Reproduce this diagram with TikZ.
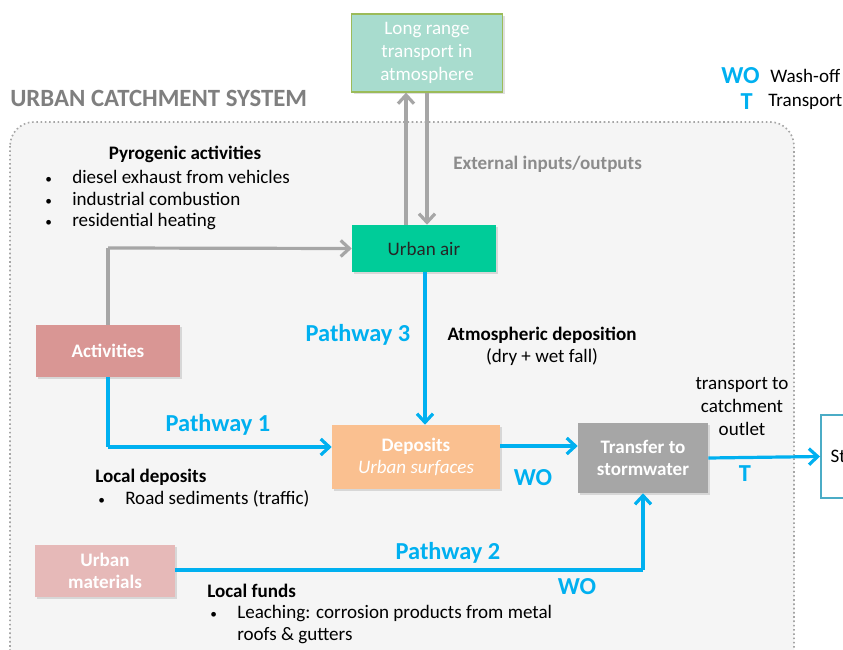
\documentclass[tikz,border=0pt]{standalone}
\usepackage{fontspec}
\setmainfont{Carlito}
\usetikzlibrary{arrows.meta,shadows,calc}
\definecolor{cblue}{HTML}{00B0F0}
\definecolor{cgrayarrow}{HTML}{A6A6A6}
\definecolor{ctitle}{HTML}{7F7F7F}
\definecolor{cbg}{HTML}{F5F5F5}
\definecolor{clong}{HTML}{A8DCCE}
\definecolor{clongb}{HTML}{9BBB59}
\definecolor{cair}{HTML}{00CC99}
\definecolor{cact}{HTML}{D99694}
\definecolor{cdep}{HTML}{FAC090}
\definecolor{ctrans}{HTML}{A6A6A6}
\definecolor{cmat}{HTML}{E6B9B8}
\definecolor{cstorm}{HTML}{4BACC6}
\newcommand{\mybul}{\makebox[20.25pt][l]{\fontsize{10}{10}\selectfont\textbullet}}
\tikzset{
  box/.style={draw=none, inner sep=2pt, align=center, text=white, font=\fontsize{14.3}{16.5}\selectfont\bfseries,
    drop shadow={shadow xshift=1.5pt, shadow yshift=-1.5pt, opacity=0.25}},
  bluearrow/.style={draw=cblue, line width=2.4pt, -{Straight Barb[length=6.5pt,width=12pt,line width=2.4pt]}},
  blueline/.style={draw=cblue, line width=2.4pt},
  grayarrow/.style={draw=cgrayarrow, line width=2.4pt, -{Straight Barb[length=6.5pt,width=12pt,line width=2.4pt]}},
  graylinestyle/.style={draw=cgrayarrow, line width=2.4pt},
  pathlabel/.style={text=cblue, font=\fontsize{18.3}{21}\selectfont\bfseries, inner sep=0pt},
  body/.style={text=black, font=\fontsize{14.3}{17.25}\selectfont, inner sep=0pt, align=left},
  bodybold/.style={text=black, font=\fontsize{14.3}{17.25}\selectfont\bfseries, inner sep=0pt}
}
\begin{document}
\begin{tikzpicture}[x=0.75pt,y=-0.75pt]
\useasboundingbox (0,0) rectangle (843,650);
\clip (0,0) rectangle (843,650);
\fill[white] (0,0) rectangle (843,650);
% catchment area
\draw[draw=gray!70, fill=cbg, line width=1.2pt, dotted, rounded corners=18pt] (10,122) rectangle (794,700);
\node[text=ctitle, font=\fontsize{18.6}{22}\selectfont\bfseries, anchor=west, inner sep=0pt] (title) at (10,98) {URBAN CATCHMENT SYSTEM};
% legend
\node[pathlabel, anchor=east] (lwo) at (760,76) {WO};
\node[body, anchor=west] (lwot) at (770,76) {Wash-off};
\node[pathlabel, anchor=east] (lt) at (753,102) {T};
\node[body, anchor=west] (ltt) at (768,102) {Transport};
% nodes
\node[box, fill=clong, draw=clongb, line width=1pt, font=\fontsize{14.3}{17.25}\selectfont, minimum width=151*0.75pt, minimum height=78*0.75pt] (long) at (427,53) {Long range\\transport in\\atmosphere};
\node[box, fill=cair, text=black!85, font=\fontsize{14.3}{16}\selectfont, minimum width=144*0.75pt, minimum height=47*0.75pt] (air) at (424,248.5) {Urban air};
\node[box, fill=cact, minimum width=144*0.75pt, minimum height=52*0.75pt] (act) at (108,351) {Activities};
\node[box, fill=cdep, minimum width=168*0.75pt, minimum height=64*0.75pt] (dep) at (416,457) {Deposits\\\mdseries\itshape Urban surfaces};
\node[box, fill=ctrans, minimum width=130*0.75pt, minimum height=70*0.75pt] (trans) at (643,458) {Transfer to\\stormwater};
\node[box, fill=cmat, minimum width=140*0.75pt, minimum height=52*0.75pt] (mat) at (105,571) {Urban\\materials};
\node[draw=cstorm, fill=white, line width=1.5pt, text width=90*0.75pt, align=left, inner xsep=9.5*0.75pt, minimum height=83*0.75pt, anchor=west, font=\fontsize{14.3}{16}\selectfont, text=black] (storm) at (820,456.5) {Stormwater};
% gray connectors
\draw[grayarrow] ($(air.north)+(-18,0)$) -- ($(long.south)+(-21,0)$);
\draw[grayarrow] ($(long.south)+(0,0)$) -- ($(air.north)+(3,0)$);
\coordinate (actup) at (108,248);
\draw[graylinestyle] (act.north) -- (actup);
\draw[grayarrow] (actup) -- (air.west);
\node[text=ctitle!90, font=\fontsize{14.3}{16}\selectfont\bfseries, anchor=west, inner sep=0pt] (ext) at (453,164) {External inputs/outputs};
% blue connectors
\draw[bluearrow] ($(air.south)+(1,0)$) -- ($(dep.north)+(9,0)$);
\coordinate (p1c) at (108,447);
\draw[blueline] (act.south) -- (p1c);
\draw[bluearrow] (p1c) -- ($(dep.west)+(0,-10)$);
\draw[bluearrow] ($(dep.east)+(0,-11)$) -- ($(trans.west)+(0,-12)$);
\draw[bluearrow] (trans.east) -- (storm.west);
\coordinate (p2c) at (643,570);
\draw[blueline] (mat.east |- p2c) -- (p2c);
\draw[bluearrow] (p2c) -- (trans.south);
% labels
\node[pathlabel] (pw3) at (358,335) {Pathway 3};
\node[pathlabel] (pw1) at (218,425) {Pathway 1};
\node[pathlabel] (pw2) at (448,553) {Pathway 2};
\node[pathlabel] (wo1) at (533,478) {WO};
\node[pathlabel] (wo2) at (577,587) {WO};
\node[pathlabel] (t1) at (745,474) {T};
\node[bodybold] (atm) at (542,335) {Atmospheric deposition};
\node[body] (atm2) at (542,357) {(dry + wet fall)};
\node[body, align=center] (outlet) at (742,407) {transport to\\catchment\\outlet};
% pyrogenic text
\node[bodybold] (pyro) at (185,154) {Pyrogenic activities};
\node[body, anchor=west] (b1) at (45,177) {\mybul diesel exhaust from vehicles};
\node[body, anchor=west] (b2) at (45,199) {\mybul industrial combustion};
\node[body, anchor=west] (b3) at (45,222) {\mybul residential heating};
% local deposits
\node[bodybold, anchor=west] (ld) at (95,477) {Local deposits};
\node[body, anchor=west] (ld1) at (98,499) {\mybul Road sediments (traffic)};
% local funds
\node[bodybold, anchor=west] (lf) at (207,591) {Local funds};
\node[body, anchor=west] (lf1) at (210,614) {\mybul Leaching: corrosion products from metal};
\node[body, anchor=west] (lf2) at (237,636) {roofs \& gutters};
\end{tikzpicture}
\end{document}
